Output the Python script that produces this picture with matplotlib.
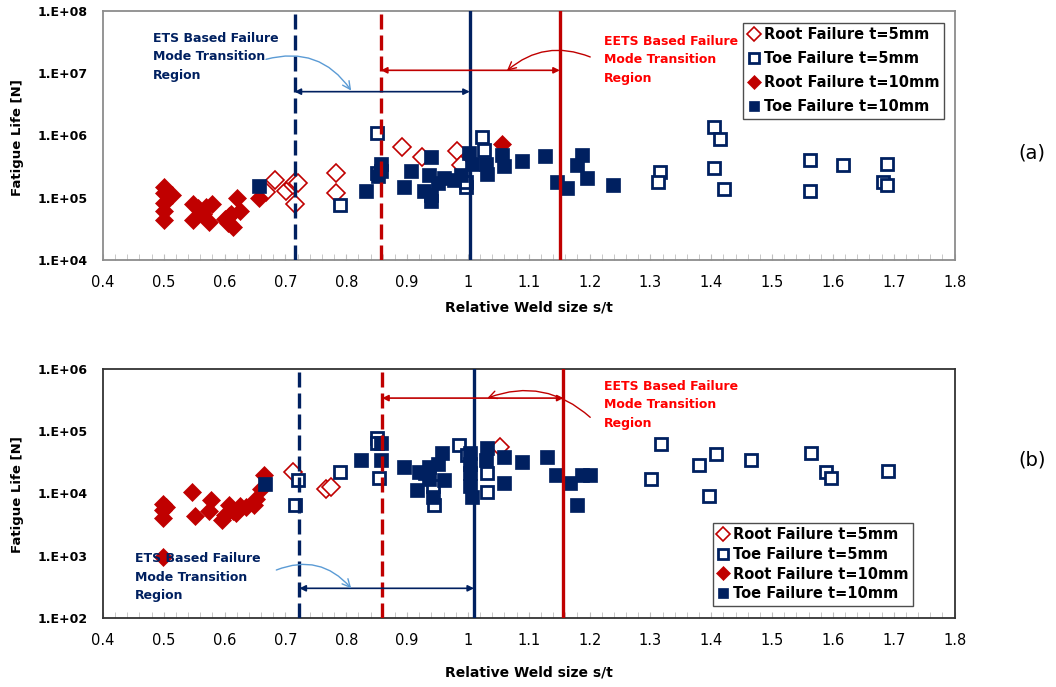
import numpy as np
import matplotlib
matplotlib.use("Agg")
import matplotlib.pyplot as plt
from matplotlib.ticker import FixedLocator, FixedFormatter, MultipleLocator

# ---------------- datos panel (a) ----------------
root5_a_x = [0.668, 0.682, 0.701, 0.713, 0.715, 0.72, 0.715, 0.783, 0.783, 0.892, 0.925, 0.982, 0.988]
root5_a_y = [1.25e5, 1.9e5, 1.3e5, 1.6e5, 1.8e5, 1.7e5, 8e4, 2.5e5, 1.2e5, 6.6e5, 4.5e5, 5.5e5, 3.3e5]

toe5_a_x = [0.789, 0.851, 0.851, 0.996, 0.996, 1.023, 1.026, 1.316, 1.313, 1.405, 1.414, 1.405, 1.421,
            1.562, 1.562, 1.617, 1.689, 1.682, 1.689]
toe5_a_y = [7.6e4, 1.07e6, 2.5e5, 1.5e5, 1.8e5, 9.5e5, 5.8e5, 2.6e5, 1.8e5, 1.37e6, 8.7e5, 3.0e5, 1.4e5,
            4.0e5, 1.3e5, 3.3e5, 3.5e5, 1.8e5, 1.6e5]

root10_a_x = [0.5, 0.5, 0.5, 0.5, 0.5, 0.513, 0.548, 0.556, 0.579, 0.548, 0.564, 0.575, 0.57,
              0.6, 0.605, 0.608, 0.613, 0.621, 0.625, 0.61, 0.657, 1.056]
root10_a_y = [1.5e5, 1.2e5, 8.1e4, 6e4, 4.4e4, 1.1e5, 8e4, 6.8e4, 8e4, 4.4e4, 5.5e4, 4e4, 7e4,
              4.5e4, 3.9e4, 5e4, 3.4e4, 1e5, 6e4, 5.5e4, 1e5, 7.2e5]

toe10_a_x = [0.657, 0.832, 0.857, 0.857, 0.852, 0.895, 0.906, 0.939, 0.936, 0.939, 0.928, 0.961,
             0.977, 0.988, 1.002, 1.007, 1.029, 1.031, 1.056, 1.059, 1.089, 1.127, 1.146, 1.162,
             1.187, 1.179, 1.195, 1.239, 0.94, 0.95]
toe10_a_y = [1.55e5, 1.3e5, 3.5e5, 2.7e5, 2.2e5, 1.5e5, 2.7e5, 4.5e5, 2.3e5, 8.7e4, 1.3e5, 2.1e5,
             1.9e5, 2.3e5, 5.2e5, 3.5e5, 3.5e5, 2.4e5, 4.8e5, 3.2e5, 3.8e5, 4.6e5, 1.8e5, 1.45e5,
             4.8e5, 3.3e5, 2.1e5, 1.6e5, 1.1e5, 1.7e5]

lineas_a = [0.715, 0.857, 1.003, 1.151]   # ETS ini, EETS ini, ETS fin, EETS fin

# ---------------- datos panel (b) ----------------
root5_b_x = [0.713, 0.766, 0.775, 1.053]
root5_b_y = [2.2e4, 1.2e4, 1.25e4, 5.5e4]

toe5_b_x = [0.72, 0.716, 0.789, 0.851, 0.851, 0.854, 0.985, 0.944, 0.942, 1.032, 1.032, 0.999,
            1.317, 1.301, 1.38, 1.407, 1.396, 1.466, 1.564, 1.589, 1.597, 1.691]
toe5_b_y = [1.65e4, 6.6e3, 2.2e4, 7.7e4, 6.5e4, 1.75e4, 6e4, 6.6e3, 1.3e4, 2.1e4, 1.05e4, 4.2e4,
            6.3e4, 1.7e4, 2.9e4, 4.3e4, 9.1e3, 3.5e4, 4.5e4, 2.2e4, 1.8e4, 2.3e4]

root10_b_x = [0.499, 0.499, 0.499, 0.503, 0.498, 0.547, 0.551, 0.578, 0.575, 0.595, 0.6, 0.608,
              0.614, 0.619, 0.625, 0.635, 0.648, 0.652, 0.66, 0.665]
root10_b_y = [6.9e3, 5.4e3, 4.0e3, 6e3, 9.5e2, 1.07e4, 4.3e3, 7.9e3, 5.2e3, 3.7e3, 4.5e3, 6.6e3,
              5.3e3, 4.8e3, 6.2e3, 6e3, 6.6e3, 8.3e3, 1.2e4, 2e4]

toe10_b_x = [0.667, 0.824, 0.857, 0.857, 0.895, 0.92, 0.916, 0.936, 0.936, 0.942, 0.958, 0.961,
             0.93, 1.004, 1.004, 1.004, 1.004, 1.007, 1.032, 1.03, 1.059, 1.059, 1.089, 1.13,
             1.144, 1.168, 1.179, 1.187, 1.201, 0.95]
toe10_b_y = [1.4e4, 3.5e4, 6.5e4, 3.5e4, 2.7e4, 2.2e4, 1.15e4, 2.7e4, 1.7e4, 8.9e3, 4.5e4, 1.65e4,
             2.1e4, 4.5e4, 3e4, 2.1e4, 1.3e4, 8.9e3, 5.4e4, 3.5e4, 3.9e4, 1.45e4, 3.2e4, 3.9e4,
             2e4, 1.45e4, 6.6e3, 2e4, 2e4, 3e4]

lineas_b = [0.723, 0.859, 1.01, 1.157]

xticks = [0.4, 0.5, 0.6, 0.7, 0.8, 0.9, 1.0, 1.1, 1.2, 1.3, 1.4, 1.5, 1.6, 1.7, 1.8]
xtick_labels = ["0.4", "0.5", "0.6", "0.7", "0.8", "0.9", "1", "1.1", "1.2", "1.3", "1.4", "1.5",
                "1.6", "1.7", "1.8"]
yticks_a = [1e4, 1e5, 1e6, 1e7, 1e8]
ytick_labels_a = ["1.E+04", "1.E+05", "1.E+06", "1.E+07", "1.E+08"]
yticks_b = [1e2, 1e3, 1e4, 1e5, 1e6]
ytick_labels_b = ["1.E+02", "1.E+03", "1.E+04", "1.E+05", "1.E+06"]

labels = ["Root Failure t=5mm", "Toe Failure t=5mm", "Root Failure t=10mm", "Toe Failure t=10mm"]
etiqueta_ets = "ETS Based Failure\nMode Transition\nRegion"
etiqueta_eets = "EETS Based Failure\nMode Transition\nRegion"

NAVY = "#002060"
RED = "#C00000"
BRED = "#FF0000"
LBLUE = "#5B9BD5"

fig = plt.figure(figsize=(10.56, 6.87), dpi=100)


def panel(rect, series, lineas, yticks, ylabels, spine_col, leg_pos, leg_sp,
          ets_txt, eets_txt, ets_arrow_y, eets_arrow_y, blue_curve, red_curve):
    ax = fig.add_axes(rect)
    r5x, r5y, t5x, t5y, r10x, r10y, t10x, t10y = series
    ax.plot(r5x, r5y, "D", ms=9, mfc="white", mec=RED, mew=1.2, ls="none", label=labels[0], zorder=3)
    ax.plot(t5x, t5y, "s", ms=9, mfc="white", mec=NAVY, mew=2.0, ls="none", label=labels[1], zorder=3)
    ax.plot(r10x, r10y, "D", ms=9, mfc=RED, mec=RED, mew=0.5, ls="none", label=labels[2], zorder=3)
    ax.plot(t10x, t10y, "s", ms=9.5, mfc=NAVY, mec=NAVY, mew=0.5, ls="none", label=labels[3], zorder=3)

    # lineas de transicion
    ax.axvline(lineas[0], color=NAVY, lw=2.4, ls=(0, (4.5, 1.8)), zorder=4)
    ax.axvline(lineas[1], color=RED, lw=2.4, ls=(0, (4.5, 1.8)), zorder=4)
    ax.axvline(lineas[2], color=NAVY, lw=2.4, zorder=4)
    ax.axvline(lineas[3], color=RED, lw=2.4, zorder=4)

    ax.set_yscale("log")
    ax.set_xlim(0.4, 1.8)
    ax.set_ylim(yticks[0], yticks[-1])
    ax.xaxis.set_major_locator(FixedLocator(xticks))
    ax.xaxis.set_major_formatter(FixedFormatter(xtick_labels))
    ax.xaxis.set_minor_locator(MultipleLocator(0.02))
    ax.yaxis.set_major_locator(FixedLocator(yticks))
    ax.yaxis.set_major_formatter(FixedFormatter(ylabels))
    ax.yaxis.set_minor_locator(FixedLocator([]))
    ax.tick_params(axis="x", which="both", direction="in", length=4, color="#bfbfbf",
                   labelsize=10.5, pad=11)
    ax.tick_params(axis="y", which="both", length=0, labelsize=9, pad=11)
    for lab in ax.get_yticklabels():
        lab.set_fontweight("bold")
    for s in ax.spines.values():
        s.set_color(spine_col)
        s.set_linewidth(1.3)

    leg = ax.legend(loc="upper left", bbox_to_anchor=leg_pos, frameon=True, fancybox=False,
                    edgecolor="#222222", prop={"weight": "bold", "size": 10.5},
                    handlelength=0.8, handletextpad=0.3, borderpad=0.3, labelspacing=leg_sp,
                    borderaxespad=0, markerscale=0.8)
    leg.get_frame().set_linewidth(1.0)
    leg.set_zorder(6)

    # textos de region
    ax.text(ets_txt[0], ets_txt[1], etiqueta_ets, transform=ax.transAxes, color=NAVY,
            fontsize=9, fontweight="bold", va="top", ha="left", linespacing=1.55, zorder=5)
    ax.text(eets_txt[0], eets_txt[1], etiqueta_eets, transform=ax.transAxes, color=BRED,
            fontsize=9, fontweight="bold", va="top", ha="left", linespacing=1.55, zorder=5)

    # flechas dobles
    ax.annotate("", xy=(lineas[2], ets_arrow_y), xytext=(lineas[0], ets_arrow_y),
                arrowprops=dict(arrowstyle="<|-|>", color=NAVY, lw=1.2, shrinkA=0, shrinkB=0,
                                mutation_scale=9), zorder=5)
    ax.annotate("", xy=(lineas[3], eets_arrow_y), xytext=(lineas[1], eets_arrow_y),
                arrowprops=dict(arrowstyle="<|-|>", color=RED, lw=1.2, shrinkA=0, shrinkB=0,
                                mutation_scale=9), zorder=5)

    # flechas curvas desde el texto
    ax.annotate("", xy=blue_curve[1], xytext=blue_curve[0],
                arrowprops=dict(arrowstyle="->", color=LBLUE, lw=1.0, shrinkA=0, shrinkB=0,
                                mutation_scale=14, connectionstyle="arc3,rad=-0.35"), zorder=5)
    ax.annotate("", xy=red_curve[1], xytext=red_curve[0],
                arrowprops=dict(arrowstyle="->", color=RED, lw=1.0, shrinkA=0, shrinkB=0,
                                mutation_scale=14, connectionstyle="arc3,rad=0.3"), zorder=5)
    return ax


ax_a = panel([0.0975, 0.6215, 0.8065, 0.3632],
             [root5_a_x, root5_a_y, toe5_a_x, toe5_a_y, root10_a_x, root10_a_y, toe10_a_x, toe10_a_y],
             lineas_a, yticks_a, ytick_labels_a, "#8c8c8c", (0.752, 0.95), 0.62,
             (0.059, 0.914), (0.588, 0.902), 5e6, 1.1e7,
             [(0.668, 1.65e7), (0.808, 5.2e6)], [(1.201, 1.8e7), (1.064, 1.08e7)])

ax_b = panel([0.0975, 0.1004, 0.8065, 0.3626],
             [root5_b_x, root5_b_y, toe5_b_x, toe5_b_y, root10_b_x, root10_b_y, toe10_b_x, toe10_b_y],
             lineas_b, yticks_b, ytick_labels_b, "#333333", (0.716, 0.382), 0.32,
             (0.038, 0.265), (0.588, 0.956), 3e2, 3.4e5,
             [(0.685, 5.9e2), (0.808, 3e2)], [(1.201, 1.67e5), (1.032, 3.4e5)])

for ax, yc in [(ax_a, 0.552), (ax_b, 0.021)]:
    fig.text(0.501, yc, "Relative Weld size s/t", ha="center", va="center",
             fontsize=10, fontweight="bold")
fig.text(0.017, 0.80, "Fatigue Life [N]", rotation=90, ha="center", va="center",
         fontsize=9.5, fontweight="bold")
fig.text(0.017, 0.28, "Fatigue Life [N]", rotation=90, ha="center", va="center",
         fontsize=9.5, fontweight="bold")
fig.text(0.977, 0.778, "(a)", ha="center", va="center", fontsize=14)
fig.text(0.977, 0.33, "(b)", ha="center", va="center", fontsize=14)

fig.savefig("out.png", dpi=100)
